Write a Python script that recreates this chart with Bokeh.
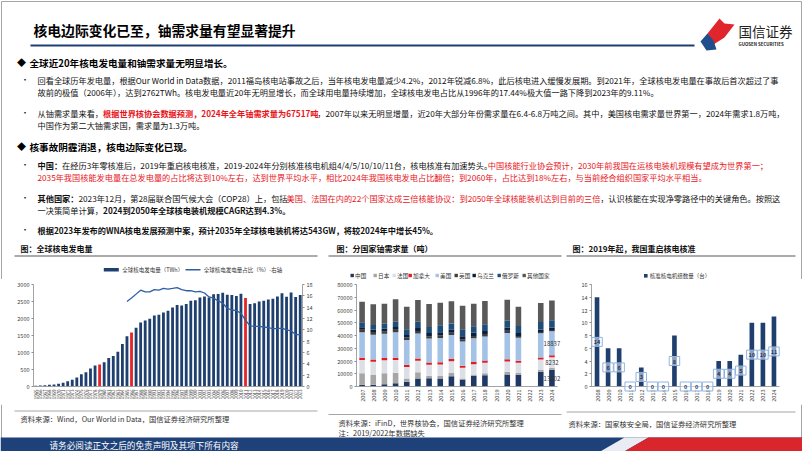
import math
from bokeh.plotting import figure
from bokeh.models import Range1d, FactorRange, LinearAxis, FixedTicker, ColumnDataSource
from bokeh.layouts import column, row
from bokeh.embed import file_html
from bokeh.resources import INLINE
from bokeh.core.properties import value

FONT = "Noto Sans CJK SC"
NAVY = "#1F3F6E"
RED = "#E3262A"
LINEBLUE = "#2E5FA3"
TXTRED = "#E8141B"

# ---------------- chart 1 data: global nuclear generation ----------------
gen_years = list(range(1965, 2024))
gen_twh = [25, 33, 40, 51, 61, 79, 111, 152, 202, 263, 361, 420, 530, 620, 645,
           710, 840, 900, 1020, 1250, 1480, 1590, 1730, 1880, 1940, 1990, 2090,
           2110, 2180, 2230, 2320, 2400, 2380, 2430, 2520, 2540, 2620, 2650, 2620,
           2710, 2720, 2760, 2700, 2690, 2660, 2730, 2600, 2430, 2450, 2500, 2520,
           2560, 2580, 2650, 2740, 2640, 2762, 2630, 2690]
share_years = list(range(1985, 2024))
share_pct = [15.0, 15.6, 16.3, 17.0, 16.7, 16.7, 17.1, 17.0, 17.3, 17.2, 17.3,
             17.44, 17.1, 16.9, 16.9, 16.7, 16.8, 16.5, 15.8, 15.6, 15.1, 14.7,
             13.8, 13.5, 13.4, 12.9, 11.7, 10.7, 10.6, 10.6, 10.5, 10.4, 10.2,
             10.2, 10.3, 10.0, 9.8, 9.2, 9.11]
red_years = [1979, 1986, 2011]
gen_ticks = [0, 500, 1000, 1500, 2000, 2500, 3000]
share_ticks = [0, 2, 4, 6, 8, 10, 12, 14, 16, 18]

# ---------------- chart 2 data: uranium demand by country (t) ----------------
u_years = [str(y) for y in range(2007, 2025)]
u_cn = [1400, 1400, 1800, 2500, 3800, 6200, 6500, 6300, 8100, 5500, 8500, 8800, 0, 9500, 9200, 0, 11500, 13202]
u_jp = [8900, 7600, 8500, 8200, 2500, 5000, 2000, 2000, 2400, 700, 1000, 1500, 0, 2000, 1400, 0, 1500, 1500]
u_fr = [10500, 10400, 10200, 10000, 9000, 9000, 8500, 9000, 9300, 8500, 8000, 8300, 0, 8200, 8000, 0, 8200, 8232]
u_ca = [1700, 1700, 1800, 1800, 1800, 1800, 1800, 1800, 1800, 1600, 1700, 1700, 0, 1700, 1600, 0, 1600, 1600]
u_us = [20000, 19500, 19000, 20000, 19300, 19500, 18800, 19000, 18700, 19000, 18700, 19000, 0, 20500, 18000, 0, 18900, 18837]
u_uk = [2000, 2200, 2000, 2100, 2000, 2000, 1900, 2000, 1800, 1700, 1800, 1800, 0, 1800, 1500, 0, 1000, 1000]
u_ua = [2000, 2000, 2000, 2000, 2000, 2300, 2400, 2400, 2400, 2400, 2400, 2400, 0, 2400, 2300, 0, 2000, 2000]
u_ru = [3800, 3500, 4000, 4200, 4500, 5000, 4700, 5500, 5000, 5500, 5200, 5400, 0, 5500, 5500, 0, 5800, 5500]
u_ot = [16200, 16200, 15700, 17700, 17600, 17000, 18200, 17600, 17300, 18400, 17700, 18100, 0, 16400, 15000, 0, 15000, 15646]
u_names = ["中国", "日本", "法国", "加拿大", "美国", "英国", "乌克兰", "俄罗斯", "其他国家"]
u_ticks = [0, 10000, 20000, 30000, 40000, 50000, 60000, 70000, 80000]

# ---------------- chart 3 data: approved reactors in China ----------------
ap_years = [str(y) for y in range(2008, 2025)]
ap_units = [14, 6, 6, 0, 3, 0, 0, 8, 0, 0, 0, 4, 4, 5, 10, 10, 11]
ap_ticks = [0, 2, 4, 6, 8, 10, 12, 14, 16]

# ---------------- texts ----------------
title_text = "核电边际变化已至，铀需求量有望显著提升"
head1 = "全球近20年核电发电量和铀需求量无明显增长。"
head2 = "核事故阴霾消退，核电边际变化已现。"
K = "#111111"
para_lines = [
    (79, [("回看全球历年发电量，根据Our World in Data数据，2011福岛核电站事故之后，当年核电发电量减少4.2%，2012年锐减6.8%，此后核电进入缓慢发展期。到2021年，全球核电发电量在事故后首次超过了事", K, False)], True),
    (91, [("故前的极值（2006年），达到2762TWh。核电发电量近20年无明显增长，而全球用电量持续增加，全球核电发电占比从1996年的17.44%极大值一路下降到2023年的9.11%。", K, False)], False),
    (112, [("从铀需求量来看，", K, False), ("根据世界核协会数据预测，2024年全年铀需求量为67517吨", TXTRED, True),
           ("，2007年以来无明显增量，近20年大部分年份需求量在6.4-6.8万吨之间。其中，美国核电需求量世界第一，2024年需求1.8万吨，", K, False)], True),
    (124, [("中国作为第二大铀需求国，需求量为1.3万吨。", K, False)], False),
    (164, [("中国：", K, True), ("在经历3年零核准后，2019年重启核电核准，2019-2024年分别核准核电机组4/4/5/10/10/11台，核电核准有加速势头。", K, False),
           ("中国核能行业协会预计，2030年前我国在运核电装机规模有望成为世界第一；", TXTRED, False)], True),
    (176, [("2035年我国核能发电量在总发电量的占比将达到10%左右，达到世界平均水平，相比2024年我国核电发电占比翻倍；到2060年，占比达到18%左右，与当前经合组织国家平均水平相当。", TXTRED, False)], False),
    (197, [("其他国家：", K, True), ("2023年12月，第28届联合国气候大会（COP28）上，包括", K, False),
           ("美国、法国在内的22个国家达成三倍核能协议：到2050年全球核能装机达到目前的三倍", TXTRED, False),
           ("，认识核能在实现净零路径中的关键角色。按照这", K, False)], True),
    (209, [("一决策简单计算，", K, False), ("2024到2050年全球核电装机规模CAGR达到4.3%。", K, True)], False),
    (229, [("根据2023年发布的WNA核电发展预测中案，预计2035年全球核电装机将达543GW，将较2024年中增长45%。", K, True)], True),
]
chart_titles = [(20, "图：全球核电发电量"), (336, "图：分国家铀需求量（吨）"), (572, "图：2019年起，我国重启核电核准")]
src1 = "资料来源：Wind，Our World in Data，国信证券经济研究所整理"
src2 = "资料来源：iFinD，世界核协会，国信证券经济研究所整理"
note2 = "注：2019/2022年数据缺失"
src3 = "资料来源：国家核安全局，国信证券经济研究所整理"
footer_text = "请务必阅读正文之后的免责声明及其项下所有内容"


def text_width(s, size, bold=False):
    w = 0.0
    for ch in s:
        o = ord(ch)
        if o > 0x2E80:
            w += 1.0
        elif ch.isdigit():
            w += 0.57 if bold else 0.54
        elif ch == " ":
            w += 0.23
        elif ch in ".,:":
            w += 0.28
        elif ch == "%":
            w += 0.86
        elif ch in "-/":
            w += 0.34
        elif ch.isupper():
            w += 0.66
        else:
            w += 0.52
    return w * size


def canvas(w, h, x0, x1, y_top, y_bot):
    p = figure(width=w, height=h, x_range=Range1d(x0, x1), y_range=Range1d(y_bot, y_top),
               output_backend="svg", toolbar_location=None, min_border=0,
               x_axis_location=None, y_axis_location=None)
    p.grid.visible = False
    p.outline_line_color = None
    p.background_fill_color = "white"
    p.border_fill_color = "white"
    return p


def txt(p, x, y, s, size, color=K, bold=False, align="left"):
    p.text(x=[x], y=[y], text=[s], text_font=value(FONT), text_font_size=f"{size}px",
           text_color=color, text_font_style="bold" if bold else "normal",
           text_align=align, text_baseline="middle")


# ================= header canvas (y 0..279) =================
hd = canvas(802, 279, 0, 802, 0, 279)
hd.line(x=[1, 801], y=[1, 1], line_color="#A6A6A6", line_width=1)
hd.line(x=[1, 1], y=[1, 279], line_color="#A6A6A6", line_width=1)
hd.line(x=[801, 801], y=[1, 279], line_color="#A6A6A6", line_width=1)
txt(hd, 33, 29, title_text, 13.8, "#000000", True)
hd.line(x=[30, 694], y=[45, 45], line_color="#1F3F73", line_width=2.2)
# logo
hd.patch(x=[707, 719, 724, 734, 724, 713], y=[33, 18, 23, 24, 37, 44], fill_color="#E0262C", line_color=None)
hd.patch(x=[700, 707, 713, 716, 706], y=[41, 33, 40, 49, 50], fill_color="#1F4E8C", line_color=None)
txt(hd, 738, 30, "国信证券", 13.5, "#222222", False)
txt(hd, 738, 43.5, "GUOSEN SECURITIES", 4.4, "#222222", True)

# headings
for y, s in [(62, head1), (146, head2)]:
    txt(hd, 21, y, "◆", 9, "#000000", True, "center")
    txt(hd, 29, y, s, 9.6, "#000000", True)

PS = 8.2
for y, segs, bullet in para_lines:
    if bullet:
        txt(hd, 24.5, y, "•", 8, K, False, "center")
    x = 37
    for s, c, b in segs:
        txt(hd, x, y, s, PS, c, b)
        x += text_width(s, PS, b)

for x, s in chart_titles:
    txt(hd, x, 248, s, 8, "#111111", True)
for x0, x1 in [(14, 317), (328, 561), (566, 795)]:
    hd.line(x=[x0, x1], y=[255.5, 255.5], line_color="#595959", line_width=1.2)

# legends
LS = 5.5
hd.rect(x=[110.8], y=[269.3], width=15, height=3.5, fill_color=NAVY, line_color=None)
txt(hd, 121.7, 269.3, "全球核电发电量（TWh）", LS, "#333333")
hd.line(x=[185, 200], y=[269.3, 269.3], line_color=LINEBLUE, line_width=1.4)
txt(hd, 203.3, 269.3, "全球核电发电量占比（%）-右轴", LS, "#333333")

u_colors = ["#1F3864", "#A6A6A6", "#DCE0E6", "#E31B23", "#A4C2E6", "#3F3F3F", "#0D1F3C", "#1F4E79", "#595959"]
leg_x = [350, 373, 392, 408, 435, 454, 472, 497, 522]
for lx, nm, c in zip(leg_x, u_names, u_colors):
    hd.rect(x=[lx + 1.7], y=[275], width=3.4, height=3.4, fill_color=c, line_color=None)
    txt(hd, lx + 4.6, 275, nm, 5.6, "#333333")

hd.rect(x=[645.3], y=[275.3], width=3.6, height=3.6, fill_color=NAVY, line_color=None)
txt(hd, 649.3, 275.3, "核准核电机组数量（台）", LS, "#333333")


def style_axes(p, xsize):
    for a in p.axis:
        a.axis_line_color = "#8C8C8C"
        a.axis_line_width = 0.8
        a.major_tick_line_color = "#8C8C8C"
        a.major_tick_out = 2
        a.major_tick_in = 0
        a.minor_tick_line_color = None
        a.major_label_text_font = FONT
        a.major_label_text_font_size = "5.5px"
        a.major_label_text_color = "#404040"
        a.major_label_standoff = 2
    p.xaxis.major_tick_line_color = None
    p.xaxis.major_label_orientation = math.pi / 2
    p.xaxis.major_label_text_font_size = f"{xsize}px"
    p.xaxis.major_label_standoff = 1
    p.grid.visible = False
    p.outline_line_color = None
    p.background_fill_color = "white"
    p.border_fill_color = "white"


# ================= chart 1 =================
yrs1 = [str(y) for y in gen_years]
s1 = ColumnDataSource(dict(x=yrs1, top=gen_twh,
                           c=[RED if y in red_years else NAVY for y in gen_years]))
p1 = figure(width=322, height=125, x_range=FactorRange(factors=yrs1), y_range=Range1d(0, 3000),
            output_backend="svg", toolbar_location=None,
            min_border_left=33, min_border_right=20, min_border_top=3, min_border_bottom=17)
p1.extra_y_ranges = {"pct": Range1d(0, 18)}
p1.vbar(x="x", top="top", width=0.62, fill_color="c", line_color=None, source=s1)
p1.line(x=[str(y) for y in share_years], y=share_pct, y_range_name="pct",
        line_color=LINEBLUE, line_width=1.3)
p1.add_layout(LinearAxis(y_range_name="pct", ticker=FixedTicker(ticks=share_ticks)), "right")
p1.yaxis[0].ticker = FixedTicker(ticks=gen_ticks)
style_axes(p1, 4.4)

# ================= chart 2 =================
keys = ["cn", "jp", "fr", "ca", "us", "uk", "ua", "ru", "ot"]
s2 = ColumnDataSource(dict(year=u_years, cn=u_cn, jp=u_jp, fr=u_fr, ca=u_ca, us=u_us,
                           uk=u_uk, ua=u_ua, ru=u_ru, ot=u_ot))
p2 = figure(width=241, height=125, x_range=FactorRange(factors=u_years), y_range=Range1d(0, 80000),
            output_backend="svg", toolbar_location=None,
            min_border_left=34, min_border_right=6, min_border_top=5, min_border_bottom=17)
p2.vbar_stack(keys, x="year", width=0.5, fill_color=u_colors, line_color=None, source=s2)
p2.yaxis.ticker = FixedTicker(ticks=u_ticks)
last = len(u_years) - 1
lab_y = [u_cn[last] / 2,
         u_cn[last] + u_jp[last] + u_fr[last] / 2,
         u_cn[last] + u_jp[last] + u_fr[last] + u_ca[last] + u_us[last] / 2]
lab_t = [str(u_cn[last]), str(u_fr[last]), str(u_us[last])]
p2.text(x=[u_years[last]] * 3, y=lab_y, text=lab_t, text_font=value(FONT), text_font_size="6px",
        text_color="#333333", text_align="center", text_baseline="middle", level="overlay")
style_axes(p2, 5.5)

# ================= chart 3 =================
s3 = ColumnDataSource(dict(x=ap_years, top=ap_units, mid=[v / 2 for v in ap_units],
                           lab=[str(v) for v in ap_units]))
p3 = figure(width=239, height=125, x_range=FactorRange(factors=ap_years), y_range=Range1d(0, 16),
            output_backend="svg", toolbar_location=None,
            min_border_left=28, min_border_right=23, min_border_top=4, min_border_bottom=17)
p3.vbar(x="x", top="top", width=0.42, fill_color=NAVY, line_color=None, source=s3)
p3.rect(x="x", y="mid", width=10.5, height=9, width_units="screen", height_units="screen",
        fill_color="white", fill_alpha=0.5, line_color="#8EB4E3", line_width=1, source=s3, level="overlay")
p3.text(x="x", y="mid", text="lab", text_font=value(FONT), text_font_size="5.5px", text_font_style="bold",
        text_color="#1F3864", text_align="center", text_baseline="middle", source=s3, level="overlay")
p3.yaxis.ticker = FixedTicker(ticks=ap_ticks)
style_axes(p3, 5.5)

# ================= footer canvas (y 404..451) =================
ft = canvas(802, 47, 0, 802, 404, 451)
ft.line(x=[1, 1], y=[404, 451], line_color="#A6A6A6", line_width=1)
ft.line(x=[801, 801], y=[404, 451], line_color="#A6A6A6", line_width=1)
ft.line(x=[14, 317], y=[410.5, 410.5], line_color="#A6A6A6", line_width=1)
ft.line(x=[328, 561], y=[414, 414], line_color="#A6A6A6", line_width=1)
ft.line(x=[566, 795], y=[411.5, 411.5], line_color="#A6A6A6", line_width=1)
txt(ft, 20, 418.5, src1, 7.3, "#333333")
txt(ft, 338, 422.5, src2, 7.3, "#333333")
txt(ft, 338, 432.5, note2, 7.3, "#333333")
txt(ft, 568, 423, src3, 7.3, "#333333")
ft.quad(left=[0], right=[802], top=[437], bottom=[452], fill_color="#1D4178", line_color=None)
ft.patch(x=[598, 624, 648, 622], y=[452, 437, 437, 452], fill_color="#E9EDF3", line_color=None)
ft.patch(x=[622, 648, 802, 802], y=[452, 437, 437, 452], fill_color="#D9262C", line_color=None)
txt(ft, 49, 444, footer_text, 8.6, "#FFFFFF")

layout = column(hd, row(p1, p2, p3), ft)
open("out.html", "w").write(file_html(layout, INLINE))
